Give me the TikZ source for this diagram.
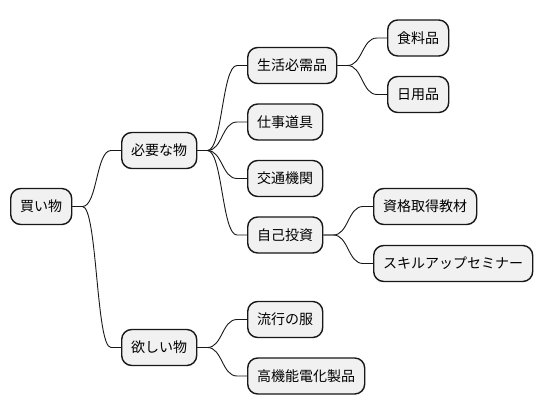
\documentclass[tikz,border=0pt]{standalone}
\usepackage{fontspec}
\setmainfont{Noto Sans CJK JP}
\usetikzlibrary{calc}
\definecolor{boxfill}{HTML}{F1F1F1}
\definecolor{boxline}{HTML}{181818}
\tikzset{
  mmnode/.style={draw=boxline, fill=boxfill, line width=1.4pt, rounded corners=10pt,
    anchor=west, inner xsep=9.5pt, inner ysep=0pt, minimum height=36pt,
    font=\fontsize{14pt}{16pt}\selectfont, text=black},
  mmlink/.style={draw=boxline, line width=0.9pt}
}
\newcommand{\mmconnect}[2]{%
  \draw[mmlink] (#1.east) -- ++(10,0) .. controls +(15,0) and +(-15,0) .. ($(#2.west)+(-10,0)$) -- (#2.west);}
\begin{document}
\begin{tikzpicture}[x=1pt,y=-1pt]
\useasboundingbox (0,0) rectangle (544,415);
\fill[white] (0,0) rectangle (544,415);
\node[mmnode] (root) at (10,206.5) {買い物};
\node[mmnode] (need) at (121,150.5) {必要な物};
\node[mmnode] (want) at (121,347.5) {欲しい物};
\node[mmnode] (daily) at (247,65.5) {生活必需品};
\node[mmnode] (work) at (247,122) {仕事道具};
\node[mmnode] (trans) at (247,178.5) {交通機関};
\node[mmnode] (invest) at (247,235) {自己投資};
\node[mmnode] (food) at (387,38) {食料品};
\node[mmnode] (goods) at (387,94.5) {日用品};
\node[mmnode] (qual) at (373,206.5) {資格取得教材};
\node[mmnode] (seminar) at (373,263.5) {スキルアップセミナー};
\node[mmnode] (fashion) at (247,319.5) {流行の服};
\node[mmnode] (appl) at (247,376) {高機能電化製品};
\mmconnect{root}{need}
\mmconnect{root}{want}
\mmconnect{need}{daily}
\mmconnect{need}{work}
\mmconnect{need}{trans}
\mmconnect{need}{invest}
\mmconnect{daily}{food}
\mmconnect{daily}{goods}
\mmconnect{invest}{qual}
\mmconnect{invest}{seminar}
\mmconnect{want}{fashion}
\mmconnect{want}{appl}
\end{tikzpicture}
\end{document}
